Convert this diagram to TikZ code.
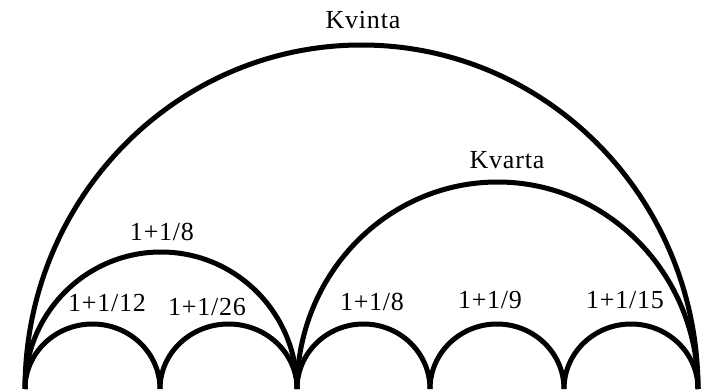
\documentclass[tikz,border=0pt]{standalone}
\usepackage{fontspec}
\setmainfont{Liberation Serif}[LetterSpace=3]
\usetikzlibrary{positioning}

\begin{document}
\begin{tikzpicture}[x=1pt, y=1pt, font=\fontsize{26}{29}\selectfont,
  bow/.style={line width=5pt},
  lbl/.style={inner sep=0pt, anchor=center}]
\useasboundingbox (0,0) rectangle (706,389);
% foot points of the arcs
\foreach \n/\x in {0/25, 1/160, 2/297, 3/430, 4/564, 5/698}
  \coordinate (p\n) at (\x,0);
% small arcs
\foreach \a/\b/\w in {0/1/135, 1/2/137, 2/3/133, 3/4/134, 4/5/134}
  \draw[bow] (p\a) arc[start angle=180, end angle=0, x radius=\w/2, y radius=65];
% larger arcs
\draw[bow] (p0) arc[start angle=180, end angle=0, x radius=136, y radius=137];
\draw[bow] (p2) arc[start angle=180, end angle=0, x radius=200.5, y radius=207];
\draw[bow] (p0) arc[start angle=180, end angle=0, x radius=336.5, y radius=344];
% labels
\node[lbl] (kvinta) at (363,369) {Kvinta};
\node[lbl] (kvarta) at (507,229) {Kvarta};
\node[lbl] (oktav) at (162,157) {1+1/8};
\node[lbl] (s1) at (107,86) {1+1/12};
\node[lbl] (s2) at (207,82) {1+1/26};
\node[lbl] (s3) at (372,87) {1+1/8};
\node[lbl] (s4) at (490,89) {1+1/9};
\node[lbl] (s5) at (625,89) {1+1/15};
\end{tikzpicture}
\end{document}
